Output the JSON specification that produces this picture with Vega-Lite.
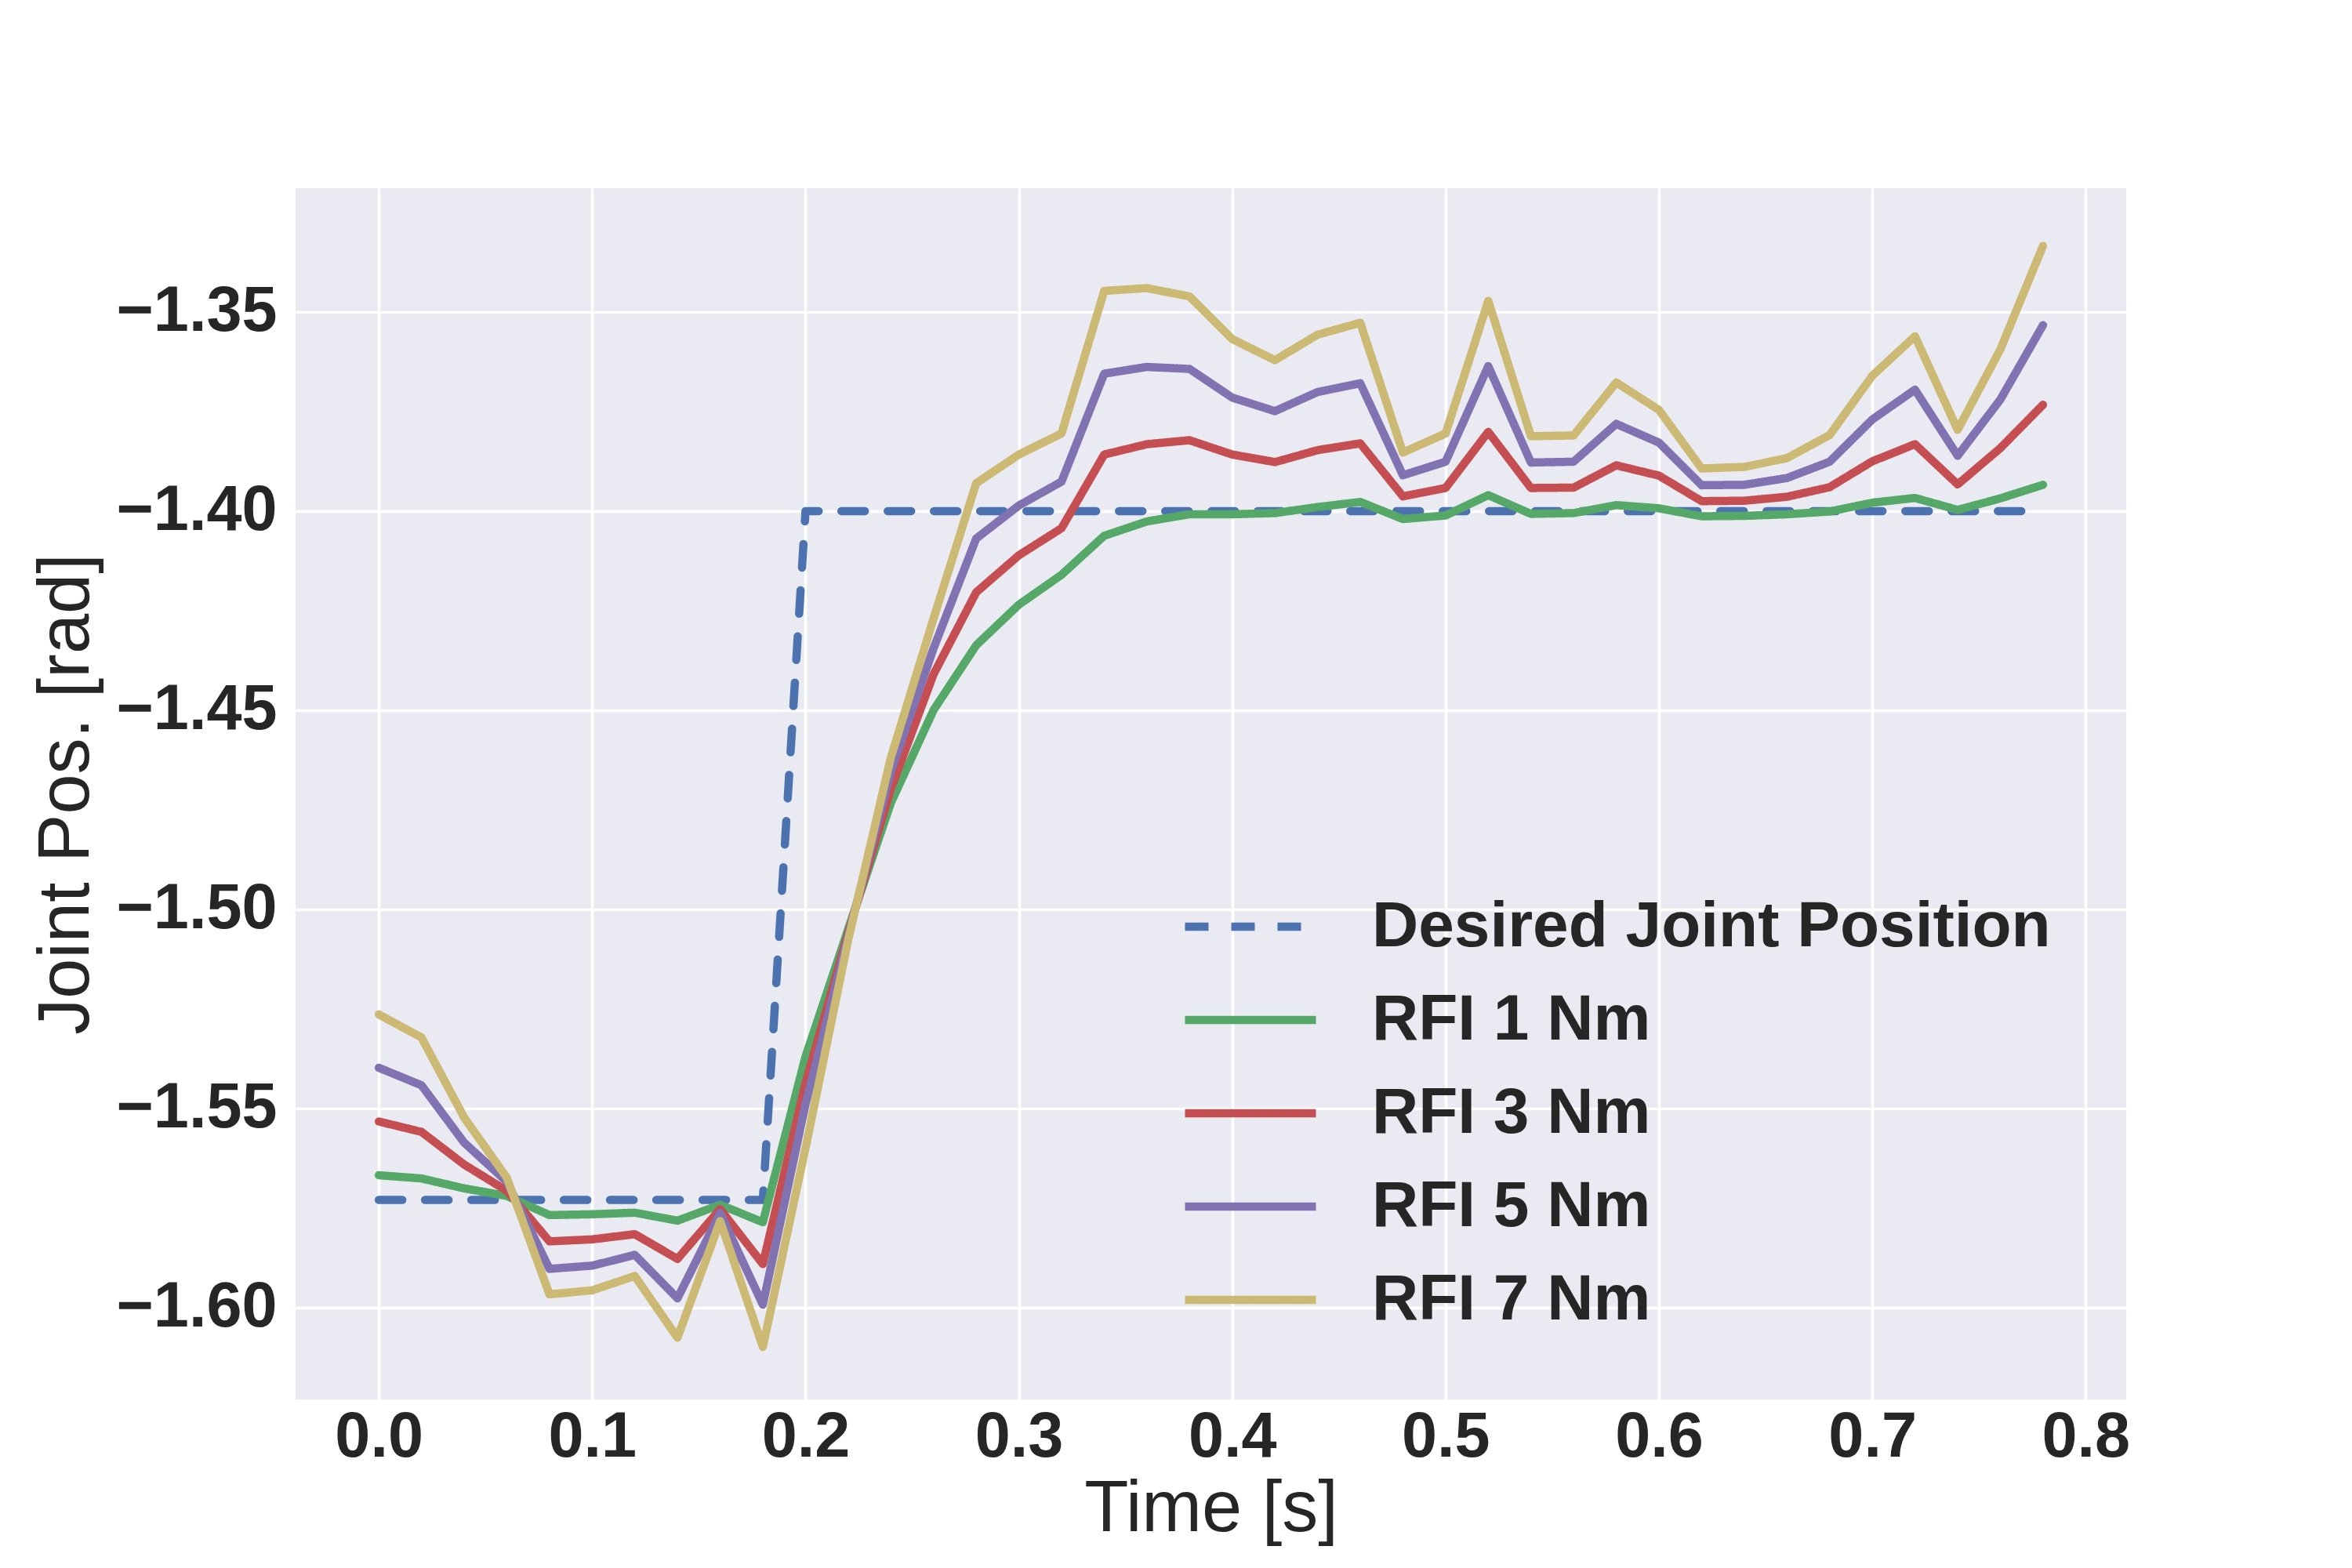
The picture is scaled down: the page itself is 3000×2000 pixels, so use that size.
{
  "$schema": "https://vega.github.io/schema/vega-lite/v6.json",
  "width": 2335,
  "height": 1545,
  "autosize": {"type": "none"},
  "padding": {"left": 377, "top": 240, "right": 288, "bottom": 215},
  "background": "white",
  "config": {
    "view": {"fill": "#EAEAF2", "stroke": null},
    "font": "Liberation Sans",
    "axis": {
      "domain": false,
      "ticks": false,
      "grid": true,
      "gridColor": "white",
      "gridWidth": 3.5,
      "labelFont": "Liberation Sans",
      "labelFontWeight": "bold",
      "labelFontSize": 81,
      "labelColor": "#262626",
      "labelLimit": 1000,
      "titleFont": "Liberation Sans",
      "titleFontWeight": "normal",
      "titleFontSize": 92,
      "titleColor": "#262626"
    },
    "legend": {
      "orient": "none",
      "legendX": 1140.5,
      "legendY": 864.5,
      "padding": 0,
      "symbolType": "M-1.156,0H1.156",
      "symbolSize": 20880,
      "symbolStrokeWidth": 10.5,
      "labelFont": "Liberation Sans",
      "labelFontSize": 82,
      "labelFontWeight": "bold",
      "labelColor": "#262626",
      "labelOffset": 77.5,
      "labelLimit": 2000,
      "rowPadding": 0
    }
  },
  "data": {
    "values": [
      {"t": 0.00, "series": "Desired Joint Position", "pos": -1.573},
      {"t": 0.02, "series": "Desired Joint Position", "pos": -1.573},
      {"t": 0.04, "series": "Desired Joint Position", "pos": -1.573},
      {"t": 0.06, "series": "Desired Joint Position", "pos": -1.573},
      {"t": 0.08, "series": "Desired Joint Position", "pos": -1.573},
      {"t": 0.10, "series": "Desired Joint Position", "pos": -1.573},
      {"t": 0.12, "series": "Desired Joint Position", "pos": -1.573},
      {"t": 0.14, "series": "Desired Joint Position", "pos": -1.573},
      {"t": 0.16, "series": "Desired Joint Position", "pos": -1.573},
      {"t": 0.18, "series": "Desired Joint Position", "pos": -1.573},
      {"t": 0.20, "series": "Desired Joint Position", "pos": -1.40},
      {"t": 0.22, "series": "Desired Joint Position", "pos": -1.40},
      {"t": 0.24, "series": "Desired Joint Position", "pos": -1.40},
      {"t": 0.26, "series": "Desired Joint Position", "pos": -1.40},
      {"t": 0.28, "series": "Desired Joint Position", "pos": -1.40},
      {"t": 0.30, "series": "Desired Joint Position", "pos": -1.40},
      {"t": 0.32, "series": "Desired Joint Position", "pos": -1.40},
      {"t": 0.34, "series": "Desired Joint Position", "pos": -1.40},
      {"t": 0.36, "series": "Desired Joint Position", "pos": -1.40},
      {"t": 0.38, "series": "Desired Joint Position", "pos": -1.40},
      {"t": 0.40, "series": "Desired Joint Position", "pos": -1.40},
      {"t": 0.42, "series": "Desired Joint Position", "pos": -1.40},
      {"t": 0.44, "series": "Desired Joint Position", "pos": -1.40},
      {"t": 0.46, "series": "Desired Joint Position", "pos": -1.40},
      {"t": 0.48, "series": "Desired Joint Position", "pos": -1.40},
      {"t": 0.50, "series": "Desired Joint Position", "pos": -1.40},
      {"t": 0.52, "series": "Desired Joint Position", "pos": -1.40},
      {"t": 0.54, "series": "Desired Joint Position", "pos": -1.40},
      {"t": 0.56, "series": "Desired Joint Position", "pos": -1.40},
      {"t": 0.58, "series": "Desired Joint Position", "pos": -1.40},
      {"t": 0.60, "series": "Desired Joint Position", "pos": -1.40},
      {"t": 0.62, "series": "Desired Joint Position", "pos": -1.40},
      {"t": 0.64, "series": "Desired Joint Position", "pos": -1.40},
      {"t": 0.66, "series": "Desired Joint Position", "pos": -1.40},
      {"t": 0.68, "series": "Desired Joint Position", "pos": -1.40},
      {"t": 0.70, "series": "Desired Joint Position", "pos": -1.40},
      {"t": 0.72, "series": "Desired Joint Position", "pos": -1.40},
      {"t": 0.74, "series": "Desired Joint Position", "pos": -1.40},
      {"t": 0.76, "series": "Desired Joint Position", "pos": -1.40},
      {"t": 0.78, "series": "Desired Joint Position", "pos": -1.40},

      {"t": 0.00, "series": "RFI 1 Nm", "pos": -1.5668},
      {"t": 0.02, "series": "RFI 1 Nm", "pos": -1.5676},
      {"t": 0.04, "series": "RFI 1 Nm", "pos": -1.5701},
      {"t": 0.06, "series": "RFI 1 Nm", "pos": -1.5720},
      {"t": 0.08, "series": "RFI 1 Nm", "pos": -1.5768},
      {"t": 0.10, "series": "RFI 1 Nm", "pos": -1.5766},
      {"t": 0.12, "series": "RFI 1 Nm", "pos": -1.5762},
      {"t": 0.14, "series": "RFI 1 Nm", "pos": -1.5782},
      {"t": 0.16, "series": "RFI 1 Nm", "pos": -1.5742},
      {"t": 0.18, "series": "RFI 1 Nm", "pos": -1.5786},
      {"t": 0.20, "series": "RFI 1 Nm", "pos": -1.5370},
      {"t": 0.22, "series": "RFI 1 Nm", "pos": -1.5050},
      {"t": 0.24, "series": "RFI 1 Nm", "pos": -1.4733},
      {"t": 0.26, "series": "RFI 1 Nm", "pos": -1.4500},
      {"t": 0.28, "series": "RFI 1 Nm", "pos": -1.4337},
      {"t": 0.30, "series": "RFI 1 Nm", "pos": -1.4235},
      {"t": 0.32, "series": "RFI 1 Nm", "pos": -1.4160},
      {"t": 0.34, "series": "RFI 1 Nm", "pos": -1.4062},
      {"t": 0.36, "series": "RFI 1 Nm", "pos": -1.4026},
      {"t": 0.38, "series": "RFI 1 Nm", "pos": -1.4008},
      {"t": 0.40, "series": "RFI 1 Nm", "pos": -1.4008},
      {"t": 0.42, "series": "RFI 1 Nm", "pos": -1.4005},
      {"t": 0.44, "series": "RFI 1 Nm", "pos": -1.3990},
      {"t": 0.46, "series": "RFI 1 Nm", "pos": -1.3977},
      {"t": 0.48, "series": "RFI 1 Nm", "pos": -1.4020},
      {"t": 0.50, "series": "RFI 1 Nm", "pos": -1.4011},
      {"t": 0.52, "series": "RFI 1 Nm", "pos": -1.3960},
      {"t": 0.54, "series": "RFI 1 Nm", "pos": -1.4007},
      {"t": 0.56, "series": "RFI 1 Nm", "pos": -1.4005},
      {"t": 0.58, "series": "RFI 1 Nm", "pos": -1.3985},
      {"t": 0.60, "series": "RFI 1 Nm", "pos": -1.3993},
      {"t": 0.62, "series": "RFI 1 Nm", "pos": -1.4013},
      {"t": 0.64, "series": "RFI 1 Nm", "pos": -1.4012},
      {"t": 0.66, "series": "RFI 1 Nm", "pos": -1.4008},
      {"t": 0.68, "series": "RFI 1 Nm", "pos": -1.4001},
      {"t": 0.70, "series": "RFI 1 Nm", "pos": -1.3979},
      {"t": 0.72, "series": "RFI 1 Nm", "pos": -1.3967},
      {"t": 0.74, "series": "RFI 1 Nm", "pos": -1.3997},
      {"t": 0.76, "series": "RFI 1 Nm", "pos": -1.3968},
      {"t": 0.78, "series": "RFI 1 Nm", "pos": -1.3934},

      {"t": 0.00, "series": "RFI 3 Nm", "pos": -1.5533},
      {"t": 0.02, "series": "RFI 3 Nm", "pos": -1.5559},
      {"t": 0.04, "series": "RFI 3 Nm", "pos": -1.5641},
      {"t": 0.06, "series": "RFI 3 Nm", "pos": -1.5707},
      {"t": 0.08, "series": "RFI 3 Nm", "pos": -1.5834},
      {"t": 0.10, "series": "RFI 3 Nm", "pos": -1.5829},
      {"t": 0.12, "series": "RFI 3 Nm", "pos": -1.5816},
      {"t": 0.14, "series": "RFI 3 Nm", "pos": -1.5878},
      {"t": 0.16, "series": "RFI 3 Nm", "pos": -1.5753},
      {"t": 0.18, "series": "RFI 3 Nm", "pos": -1.5891},
      {"t": 0.20, "series": "RFI 3 Nm", "pos": -1.5437},
      {"t": 0.22, "series": "RFI 3 Nm", "pos": -1.5059},
      {"t": 0.24, "series": "RFI 3 Nm", "pos": -1.4698},
      {"t": 0.26, "series": "RFI 3 Nm", "pos": -1.4410},
      {"t": 0.28, "series": "RFI 3 Nm", "pos": -1.4204},
      {"t": 0.30, "series": "RFI 3 Nm", "pos": -1.4111},
      {"t": 0.32, "series": "RFI 3 Nm", "pos": -1.4043},
      {"t": 0.34, "series": "RFI 3 Nm", "pos": -1.3858},
      {"t": 0.36, "series": "RFI 3 Nm", "pos": -1.3832},
      {"t": 0.38, "series": "RFI 3 Nm", "pos": -1.3822},
      {"t": 0.40, "series": "RFI 3 Nm", "pos": -1.3858},
      {"t": 0.42, "series": "RFI 3 Nm", "pos": -1.3877},
      {"t": 0.44, "series": "RFI 3 Nm", "pos": -1.3847},
      {"t": 0.46, "series": "RFI 3 Nm", "pos": -1.3830},
      {"t": 0.48, "series": "RFI 3 Nm", "pos": -1.3963},
      {"t": 0.50, "series": "RFI 3 Nm", "pos": -1.3942},
      {"t": 0.52, "series": "RFI 3 Nm", "pos": -1.3801},
      {"t": 0.54, "series": "RFI 3 Nm", "pos": -1.3942},
      {"t": 0.56, "series": "RFI 3 Nm", "pos": -1.3941},
      {"t": 0.58, "series": "RFI 3 Nm", "pos": -1.3885},
      {"t": 0.60, "series": "RFI 3 Nm", "pos": -1.3911},
      {"t": 0.62, "series": "RFI 3 Nm", "pos": -1.3975},
      {"t": 0.64, "series": "RFI 3 Nm", "pos": -1.3974},
      {"t": 0.66, "series": "RFI 3 Nm", "pos": -1.3964},
      {"t": 0.68, "series": "RFI 3 Nm", "pos": -1.3940},
      {"t": 0.70, "series": "RFI 3 Nm", "pos": -1.3875},
      {"t": 0.72, "series": "RFI 3 Nm", "pos": -1.3832},
      {"t": 0.74, "series": "RFI 3 Nm", "pos": -1.3933},
      {"t": 0.76, "series": "RFI 3 Nm", "pos": -1.3842},
      {"t": 0.78, "series": "RFI 3 Nm", "pos": -1.3733},

      {"t": 0.00, "series": "RFI 5 Nm", "pos": -1.5398},
      {"t": 0.02, "series": "RFI 5 Nm", "pos": -1.5442},
      {"t": 0.04, "series": "RFI 5 Nm", "pos": -1.5586},
      {"t": 0.06, "series": "RFI 5 Nm", "pos": -1.5684},
      {"t": 0.08, "series": "RFI 5 Nm", "pos": -1.5903},
      {"t": 0.10, "series": "RFI 5 Nm", "pos": -1.5895},
      {"t": 0.12, "series": "RFI 5 Nm", "pos": -1.5868},
      {"t": 0.14, "series": "RFI 5 Nm", "pos": -1.5977},
      {"t": 0.16, "series": "RFI 5 Nm", "pos": -1.5763},
      {"t": 0.18, "series": "RFI 5 Nm", "pos": -1.5993},
      {"t": 0.20, "series": "RFI 5 Nm", "pos": -1.5490},
      {"t": 0.22, "series": "RFI 5 Nm", "pos": -1.5068},
      {"t": 0.24, "series": "RFI 5 Nm", "pos": -1.4654},
      {"t": 0.26, "series": "RFI 5 Nm", "pos": -1.4345},
      {"t": 0.28, "series": "RFI 5 Nm", "pos": -1.4069},
      {"t": 0.30, "series": "RFI 5 Nm", "pos": -1.3986},
      {"t": 0.32, "series": "RFI 5 Nm", "pos": -1.3926},
      {"t": 0.34, "series": "RFI 5 Nm", "pos": -1.3655},
      {"t": 0.36, "series": "RFI 5 Nm", "pos": -1.3638},
      {"t": 0.38, "series": "RFI 5 Nm", "pos": -1.3643},
      {"t": 0.40, "series": "RFI 5 Nm", "pos": -1.3715},
      {"t": 0.42, "series": "RFI 5 Nm", "pos": -1.3749},
      {"t": 0.44, "series": "RFI 5 Nm", "pos": -1.3701},
      {"t": 0.46, "series": "RFI 5 Nm", "pos": -1.3679},
      {"t": 0.48, "series": "RFI 5 Nm", "pos": -1.3910},
      {"t": 0.50, "series": "RFI 5 Nm", "pos": -1.3876},
      {"t": 0.52, "series": "RFI 5 Nm", "pos": -1.3636},
      {"t": 0.54, "series": "RFI 5 Nm", "pos": -1.3878},
      {"t": 0.56, "series": "RFI 5 Nm", "pos": -1.3876},
      {"t": 0.58, "series": "RFI 5 Nm", "pos": -1.3781},
      {"t": 0.60, "series": "RFI 5 Nm", "pos": -1.3828},
      {"t": 0.62, "series": "RFI 5 Nm", "pos": -1.3935},
      {"t": 0.64, "series": "RFI 5 Nm", "pos": -1.3934},
      {"t": 0.66, "series": "RFI 5 Nm", "pos": -1.3917},
      {"t": 0.68, "series": "RFI 5 Nm", "pos": -1.3876},
      {"t": 0.70, "series": "RFI 5 Nm", "pos": -1.3770},
      {"t": 0.72, "series": "RFI 5 Nm", "pos": -1.3695},
      {"t": 0.74, "series": "RFI 5 Nm", "pos": -1.3861},
      {"t": 0.76, "series": "RFI 5 Nm", "pos": -1.3720},
      {"t": 0.78, "series": "RFI 5 Nm", "pos": -1.3533},

      {"t": 0.00, "series": "RFI 7 Nm", "pos": -1.5264},
      {"t": 0.02, "series": "RFI 7 Nm", "pos": -1.5322},
      {"t": 0.04, "series": "RFI 7 Nm", "pos": -1.5523},
      {"t": 0.06, "series": "RFI 7 Nm", "pos": -1.5674},
      {"t": 0.08, "series": "RFI 7 Nm", "pos": -1.5967},
      {"t": 0.10, "series": "RFI 7 Nm", "pos": -1.5957},
      {"t": 0.12, "series": "RFI 7 Nm", "pos": -1.5921},
      {"t": 0.14, "series": "RFI 7 Nm", "pos": -1.6076},
      {"t": 0.16, "series": "RFI 7 Nm", "pos": -1.5783},
      {"t": 0.18, "series": "RFI 7 Nm", "pos": -1.6099},
      {"t": 0.20, "series": "RFI 7 Nm", "pos": -1.5600},
      {"t": 0.22, "series": "RFI 7 Nm", "pos": -1.5077},
      {"t": 0.24, "series": "RFI 7 Nm", "pos": -1.4619},
      {"t": 0.26, "series": "RFI 7 Nm", "pos": -1.4270},
      {"t": 0.28, "series": "RFI 7 Nm", "pos": -1.3930},
      {"t": 0.30, "series": "RFI 7 Nm", "pos": -1.3858},
      {"t": 0.32, "series": "RFI 7 Nm", "pos": -1.3805},
      {"t": 0.34, "series": "RFI 7 Nm", "pos": -1.3447},
      {"t": 0.36, "series": "RFI 7 Nm", "pos": -1.3440},
      {"t": 0.38, "series": "RFI 7 Nm", "pos": -1.3461},
      {"t": 0.40, "series": "RFI 7 Nm", "pos": -1.3568},
      {"t": 0.42, "series": "RFI 7 Nm", "pos": -1.3621},
      {"t": 0.44, "series": "RFI 7 Nm", "pos": -1.3557},
      {"t": 0.46, "series": "RFI 7 Nm", "pos": -1.3527},
      {"t": 0.48, "series": "RFI 7 Nm", "pos": -1.3853},
      {"t": 0.50, "series": "RFI 7 Nm", "pos": -1.3805},
      {"t": 0.52, "series": "RFI 7 Nm", "pos": -1.3472},
      {"t": 0.54, "series": "RFI 7 Nm", "pos": -1.3812},
      {"t": 0.56, "series": "RFI 7 Nm", "pos": -1.3810},
      {"t": 0.58, "series": "RFI 7 Nm", "pos": -1.3677},
      {"t": 0.60, "series": "RFI 7 Nm", "pos": -1.3746},
      {"t": 0.62, "series": "RFI 7 Nm", "pos": -1.3893},
      {"t": 0.64, "series": "RFI 7 Nm", "pos": -1.3889},
      {"t": 0.66, "series": "RFI 7 Nm", "pos": -1.3867},
      {"t": 0.68, "series": "RFI 7 Nm", "pos": -1.3809},
      {"t": 0.70, "series": "RFI 7 Nm", "pos": -1.3660},
      {"t": 0.72, "series": "RFI 7 Nm", "pos": -1.3561},
      {"t": 0.74, "series": "RFI 7 Nm", "pos": -1.3796},
      {"t": 0.76, "series": "RFI 7 Nm", "pos": -1.3594},
      {"t": 0.78, "series": "RFI 7 Nm", "pos": -1.3334}
    ]
  },
  "mark": {"type": "line", "strokeWidth": 10.5, "strokeJoin": "round", "strokeCap": "round"},
  "encoding": {
    "x": {
      "field": "t",
      "type": "quantitative",
      "title": "Time [s]",
      "scale": {"domain": [-0.039, 0.819], "nice": false, "zero": false},
      "axis": {
        "values": [0, 0.1, 0.2, 0.3, 0.4, 0.5, 0.6, 0.7, 0.8],
        "format": ".1f",
        "labelPadding": 8,
        "titlePadding": 6
      }
    },
    "y": {
      "field": "pos",
      "type": "quantitative",
      "title": "Joint Pos. [rad]",
      "scale": {"domain": [-1.6231, -1.3189], "nice": false, "zero": false},
      "axis": {
        "values": [-1.60, -1.55, -1.50, -1.45, -1.40, -1.35],
        "format": ".2f",
        "labelPadding": 24,
        "titlePadding": 46
      }
    },
    "color": {
      "field": "series",
      "type": "nominal",
      "title": null,
      "scale": {
        "domain": ["Desired Joint Position", "RFI 1 Nm", "RFI 3 Nm", "RFI 5 Nm", "RFI 7 Nm"],
        "range": ["#4C72B0", "#55A868", "#C44E52", "#8172B2", "#CCB974"]
      }
    },
    "strokeDash": {
      "field": "series",
      "type": "nominal",
      "title": null,
      "scale": {
        "domain": ["Desired Joint Position", "RFI 1 Nm", "RFI 3 Nm", "RFI 5 Nm", "RFI 7 Nm"],
        "range": [[30, 29], [1, 0], [1, 0], [1, 0], [1, 0]]
      }
    }
  }
}
